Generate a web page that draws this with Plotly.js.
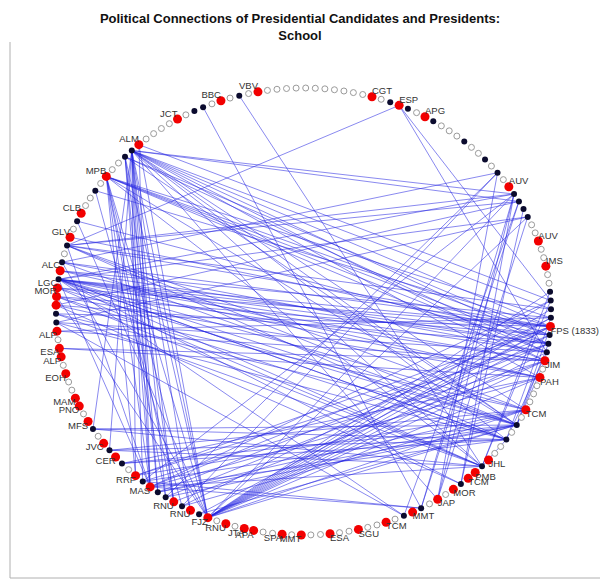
<!DOCTYPE html>
<html><head><meta charset="utf-8">
<script src="https://cdn.plot.ly/plotly-3.0.1.min.js"></script>
<style>html,body{margin:0;padding:0;background:#fff}#chart{width:600px;height:580px}</style>
</head><body><div id="chart"></div>
<script>
// node kinds in circular order (clockwise from top): r = red, b = black, w = hollow
const nodeKinds = [
 'r','w','w','w','w','w','w','w','w','w',
 'w','w','r','w','b','r','b','w','r','b',
 'w','w','w','b','w','w','b','w','b','w',
 'r','b','b','b','b','w','w','r','w','w',
 'r','w','w','b','b','b','b','r','b','b',
 'b','r','w','r','w','w','w','r','w','b',
 'w','b','w','w','r','b','r','r','b','r',
 'w','r','w','b','r','b','w','r','w','w',
 'r','w','w','r','w','w','r','w','r','w',
 'w','r','r','w','r','w','r','b','r','b',
 'r','b','b','r','b','r','w','b','r','b',
 'r','w','b','r','w','r','r','w','w','r',
 'w','r','r','w','r','b','b','r','r','r',
 'b','r','b','w','b','r','w','b','r','w',
 'w','b','w','r','w','w','b','b','r','w',
 'w','w','w','r','w','b','b','w','r','w',
 'b','w'
];
const labeledNodes = [1,13,16,19,31,38,41,48,52,54,58,65,67,68,70,72,75,78,81,84,87,89,92,93,95,97,99,101,104,106,109,111,114,116,117,120,122,123,125,129,130,132,136,139,144,149,154,159];
const labelTexts = ['VBV','CGT','ESP','APG','AUV','AUV','IMS','FPS (1833)','JIM','PAH','TCM','JHL','PMB','TCM','MOR','JAP','MMT','TCM','SGU','ESA','MMT','SPA','APA','JTA','RNU','FJZ','RNU','RNU','MAS','RRF','CER','JVC','MFS','PNO','MAM','EOH','ALP','ESA','ALP','MOR','LGC','ALC','GLV','CLB','MPB','ALM','JCT','BBC'];
const edges = [
 [148,48],[148,50],[148,52],[148,54],[148,58],[148,60],[148,62],[148,46],[148,32],[148,33],[148,97],[148,104],[148,101],[148,99],[148,106],[148,66],[148,72],[148,113],[148,110],[148,105],[148,103],[148,102],
 [147,49],[147,51],[147,60],[147,97],[147,103],[147,104],[147,101],
 [149,45],[149,97],[149,104],
 [144,49],[144,50],[144,51],[144,52],[144,47],[144,60],[144,104],[144,102],[144,106],[144,97],[144,66],[144,99],[144,101],
 [142,100],[142,48],
 [138,50],[138,97],
 [135,32],[135,33],[135,16],[135,48],[135,46],[135,58],[135,62],[135,60],[135,104],
 [136,49],
 [133,48],[133,51],[133,60],[133,29],[133,97],
 [132,47],[132,50],[132,54],
 [131,48],[131,49],[131,50],[131,51],[131,52],[131,54],[131,58],[131,60],[131,62],[131,32],[131,35],[131,66],[131,69],[131,62],[131,104],
 [130,48],[130,52],[130,60],[130,66],
 [129,49],[129,54],[129,62],[129,66],[129,97],
 [128,50],[128,58],[128,69],
 [127,48],[127,60],[127,66],
 [126,51],[126,62],[126,76],
 [125,47],[125,52],
 [123,54],[123,52],
 [113,66],[113,60],[113,62],
 [110,58],[110,62],[110,66],
 [108,54],[108,60],[108,62],
 [106,48],[106,50],[106,58],
 [105,52],[105,60],[105,74],[105,32],
 [104,45],[104,48],[104,54],[104,62],[104,66],
 [103,49],[103,58],[103,60],
 [102,50],[102,60],[102,29],
 [101,52],
 [100,47],[100,58],
 [97,44],[97,45],[97,46],[97,47],[97,48],[97,49],[97,50],[97,51],[97,52],[97,54],[97,58],[97,60],[97,32],[97,35],
 [98,48],[98,60],
 [48,60],[47,62],[50,60],[51,62],[52,60],[45,66],[44,66],[62,66],
 [32,74],[32,72],[32,69],
 [33,74],[33,76],[33,128],
 [34,69],
 [35,72],[35,126],
 [29,72],[29,100],
 [16,45],[16,51],
 [74,104],[74,157],
 [66,161],
 [76,131]
];

const N = nodeKinds.length;
const startAngle = 100.6;
function pos(id){
  const t = (startAngle - (id - 1) * 360 / N) * Math.PI / 180;
  return [Math.cos(t), Math.sin(t)];
}

const ex = [], ey = [];
edges.forEach(([a, b]) => {
  const p = pos(a), q = pos(b);
  ex.push(p[0], q[0], null); ey.push(p[1], q[1], null);
});

function nodesOf(kind){
  const xs = [], ys = [];
  nodeKinds.forEach((k, i) => { if (k === kind) { const p = pos(i + 1); xs.push(p[0]); ys.push(p[1]); } });
  return {x: xs, y: ys};
}
const W = nodesOf('w'), B = nodesOf('b'), R = nodesOf('r');

const lx = [], ly = [], lpos = [];
labeledNodes.forEach(id => {
  const p = pos(id);
  lx.push(p[0]); ly.push(p[1]);
  lpos.push((p[1] > 0 ? 'top ' : 'bottom ') + (p[0] < 0 ? 'left' : 'right'));
});

const traces = [
  {x: ex, y: ey, mode: 'lines', line: {color: 'rgba(35,35,225,0.68)', width: 0.8}, hoverinfo: 'skip'},
  {x: W.x, y: W.y, mode: 'markers', marker: {size: 6, color: '#ffffff', line: {color: '#9a9a9a', width: 1}}, hoverinfo: 'skip'},
  {x: B.x, y: B.y, mode: 'markers', marker: {size: 6, color: '#0b0b2e'}, hoverinfo: 'skip'},
  {x: R.x, y: R.y, mode: 'markers', marker: {size: 9, color: '#f20000'}, hoverinfo: 'skip'},
  {x: lx, y: ly, mode: 'text', text: labelTexts, textposition: lpos,
   textfont: {family: 'Liberation Sans, Arial, sans-serif', size: 9.5, color: '#333333'}, hoverinfo: 'skip'}
];

const layout = {
  width: 600, height: 580,
  margin: {l: 0, r: 0, t: 0, b: 0},
  paper_bgcolor: '#ffffff', plot_bgcolor: '#ffffff',
  showlegend: false,
  title: {text: '<b>Political Connections of Presidential Candidates and Presidents:<br>School</b>',
          font: {family: 'Liberation Sans, Arial, sans-serif', size: 13, color: '#111'},
          x: 0.5, xanchor: 'center', y: 1 - 23/580, yanchor: 'top', yref: 'container'},
  xaxis: {range: [-1.2263, 1.198], visible: false, fixedrange: true},
  yaxis: {range: [-1.2013, 1.3937], visible: false, fixedrange: true},
  shapes: [
    {type: 'line', xref: 'paper', yref: 'paper', x0: 10/600, x1: 10/600, y0: 2/580, y1: 1 - 42/580, line: {color: '#b0b0b0', width: 1}},
    {type: 'line', xref: 'paper', yref: 'paper', x0: 10/600, x1: 1, y0: 2/580, y1: 2/580, line: {color: '#b0b0b0', width: 1}}
  ]
};
Plotly.newPlot('chart', traces, layout, {displayModeBar: false, staticPlot: true});
</script>
</body></html>
